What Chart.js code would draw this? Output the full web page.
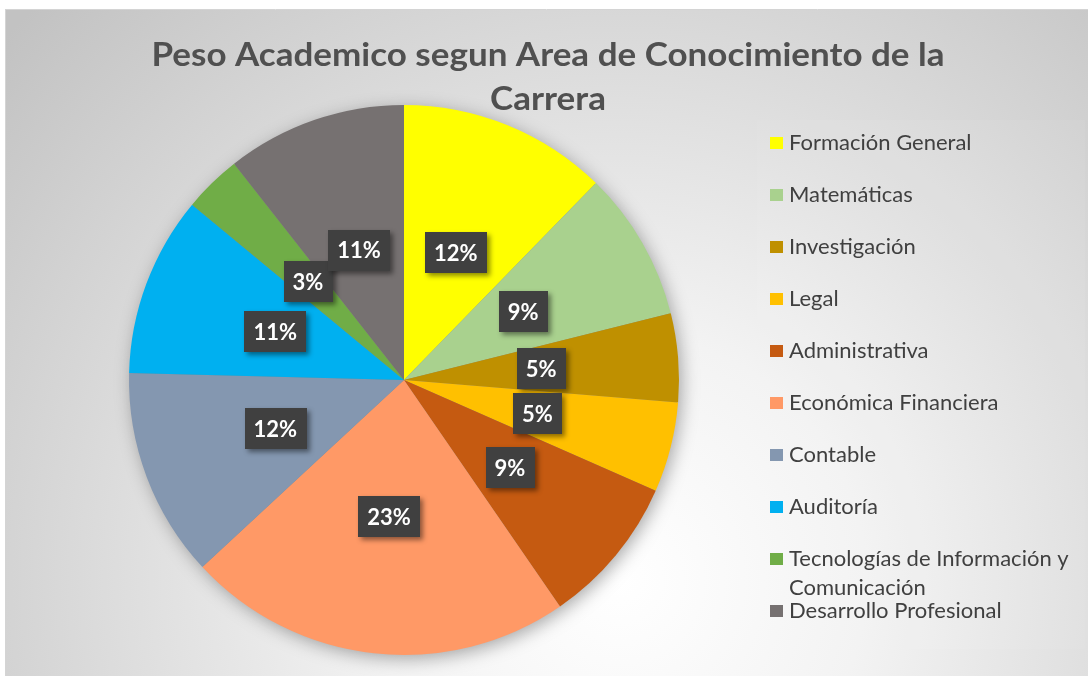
<!DOCTYPE html>
<html><head><meta charset="utf-8">
<script src="https://cdn.jsdelivr.net/npm/chart.js@4.4.0/dist/chart.umd.min.js"></script>
<style>html,body{margin:0;padding:0;background:#fff;overflow:hidden}</style>
</head><body>
<canvas id="c" width="1088" height="676"></canvas>
<script>
const titleLines = ['Peso Academico segun Area de Conocimiento de la', 'Carrera'];
const categories = ['Formación General','Matemáticas','Investigación','Legal','Administrativa','Económica Financiera','Contable','Auditoría','Tecnologías de Información y Comunicación','Desarrollo Profesional'];
const values = [12.3, 8.8, 5.2, 5.3, 8.8, 22.7, 12.3, 10.6, 3.4, 10.6];
const colors = ['#FFFF00','#A9D18E','#BF9000','#FFC000','#C55A11','#FF9966','#8497B0','#00B0F0','#70AD47','#767171'];

const FONT = 'Lato, "Open Sans", sans-serif';

const bgPlugin = {
  id: 'bg',
  beforeDraw(chart) {
    const ctx = chart.ctx;
    ctx.save();
    ctx.fillStyle = '#ffffff';
    ctx.fillRect(0, 0, chart.width, chart.height);
    const g = ctx.createRadialGradient(620, 580, 0, 620, 580, 820);
    g.addColorStop(0, '#ffffff');
    g.addColorStop(0.3, '#f3f3f3');
    g.addColorStop(1, '#c2c2c2');
    ctx.fillStyle = g;
    ctx.fillRect(5, 10, chart.width - 5, chart.height - 10);
    ctx.strokeStyle = '#d4d4d4';
    ctx.lineWidth = 1;
    ctx.beginPath(); ctx.moveTo(5, 9.5); ctx.lineTo(chart.width, 9.5); ctx.moveTo(5.5, 10); ctx.lineTo(5.5, chart.height); ctx.stroke();
    ctx.fillStyle = 'rgba(255,255,255,0.06)';
    ctx.fillRect(757, 120, 328, 529);
    // title (narrow, tall face like Calibri)
    ctx.fillStyle = '#505050';
    ctx.textAlign = 'center';
    ctx.textBaseline = 'alphabetic';
    const fs = 32;
    ctx.font = 'bold ' + fs + 'px ' + FONT;
    const w = ctx.measureText(titleLines[0]).width;
    const sx = 793 / w;
    ctx.save();
    ctx.translate(548, 0);
    ctx.scale(sx, 1);
    ctx.fillText(titleLines[0], 0, 66);
    ctx.fillText(titleLines[1], 0, 110);
    ctx.restore();
    ctx.restore();
  },
  beforeDatasetsDraw(chart) {
    const meta = chart.getDatasetMeta(0);
    const a = meta.data[0];
    if (!a) return;
    const ctx = chart.ctx;
    ctx.save();
    ctx.shadowColor = 'rgba(0,0,0,0.35)';
    ctx.shadowBlur = 18;
    ctx.shadowOffsetX = 3;
    ctx.shadowOffsetY = 4;
    ctx.fillStyle = '#888';
    ctx.beginPath();
    ctx.arc(a.x, a.y, a.outerRadius - 1, 0, Math.PI * 2);
    ctx.fill();
    ctx.restore();
  },
  afterDatasetsDraw(chart) {
    const ctx = chart.ctx;
    const meta = chart.getDatasetMeta(0);
    const total = values.reduce((s, v) => s + v, 0);
    ctx.save();
    ctx.font = 'bold 22px ' + FONT;
    ctx.textAlign = 'center';
    ctx.textBaseline = 'middle';
    meta.data.forEach((arc, i) => {
      const p = arc.tooltipPosition();
      const txt = Math.round(values[i] / total * 100) + '%';
      const tw = ctx.measureText(txt).width;
      const bw = tw + 18, bh = 41;
      ctx.save();
      ctx.shadowColor = 'rgba(0,0,0,0.45)';
      ctx.shadowBlur = 5;
      ctx.shadowOffsetX = 3;
      ctx.shadowOffsetY = 3;
      ctx.fillStyle = '#404040';
      ctx.fillRect(Math.round(p.x - bw / 2), Math.round(p.y - bh / 2), Math.round(bw), bh);
      ctx.restore();
      ctx.fillStyle = '#ffffff';
      ctx.fillText(txt, p.x, p.y + 1);
    });
    ctx.restore();
  },
  afterDraw(chart) {
    const ctx = chart.ctx;
    ctx.save();
    ctx.font = '22px ' + FONT;
    ctx.textAlign = 'left';
    ctx.textBaseline = 'alphabetic';
    const maxW = 292;
    categories.forEach((lab, i) => {
      const base = 150 + 52 * i;
      ctx.fillStyle = colors[i];
      ctx.fillRect(770, base - 13, 13, 12);
      ctx.fillStyle = '#404040';
      const words = lab.split(' ');
      let line = '', y = base;
      words.forEach(wd => {
        const test = line ? line + ' ' + wd : wd;
        if (ctx.measureText(test).width > maxW && line) {
          ctx.fillText(line, 789, y);
          line = wd; y += 29;
        } else line = test;
      });
      ctx.fillText(line, 789, y);
    });
    ctx.restore();
  }
};

new Chart(document.getElementById('c'), {
  type: 'pie',
  data: {
    labels: categories,
    datasets: [{ data: values, backgroundColor: colors, borderWidth: 0, hoverOffset: 0 }]
  },
  options: {
    responsive: false,
    animation: false,
    layout: { padding: { left: 129, right: 409, top: 105, bottom: 21 } },
    plugins: { legend: { display: false }, tooltip: { enabled: false }, title: { display: false } }
  },
  plugins: [bgPlugin]
});
</script>
</body></html>
